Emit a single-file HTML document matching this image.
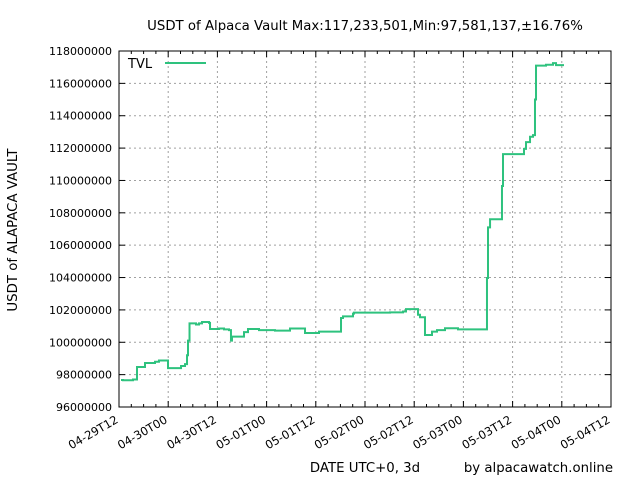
<!DOCTYPE html>
<html><head><meta charset="utf-8"><style>body{margin:0;background:#fff}svg{display:block;font-family:"DejaVu Sans","Liberation Sans",sans-serif}</style></head>
<body>
<svg id="c" width="640" height="480"></svg>
<script>
const times=[0.49,0.98,3.41,4.39,6.34,8.78,9.75,11.95,15.13,16.1,16.59,16.83,17.2,18.78,19.51,20.25,21.95,22.2,24.39,25.61,26.83,27.31,27.56,30.49,31.46,34.15,38.05,41.71,45.37,48.78,54.15,54.63,57.07,57.32,66.1,69.27,70.0,72.93,73.41,74.63,76.34,77.56,79.51,82.68,89.75,90.0,90.5,93.41,93.66,98.3,98.78,99.27,100.25,100.98,101.46,101.71,104.15,105.85,106.59,108.54];
const values=[97.67,97.65,97.7,98.47,98.72,98.8,98.87,98.4,98.53,98.65,99.2,100.1,101.17,101.1,101.17,101.25,101.2,100.82,100.85,100.8,100.75,100.1,100.35,100.63,100.82,100.75,100.72,100.85,100.57,100.66,101.5,101.6,101.77,101.83,101.85,101.9,102.05,101.7,101.55,100.45,100.66,100.75,100.87,100.8,103.97,107.1,107.6,109.66,111.63,111.63,111.95,112.37,112.7,112.8,115.0,117.1,117.15,117.25,117.13,117.13];
const yTicks=[96,98,100,102,104,106,108,110,112,114,116,118];
const xTickLabels=["04-29T12","04-30T00","04-30T12","05-01T00","05-01T12","05-02T00","05-02T12","05-03T00","05-03T12","05-04T00","05-04T12"];
const L=119,R=611,T=51,B=407,SPAN=120;
const xs=h=>L+h*(R-L)/SPAN, ys=v=>B-(v-96)*(B-T)/22;
const svg=document.getElementById('c');const NS='http://www.w3.org/2000/svg';
function mk(t,a,txt){const e=document.createElementNS(NS,t);for(const k in a)e.setAttribute(k,a[k]);if(txt!=null)e.textContent=txt;svg.appendChild(e);return e;}
yTicks.forEach(v=>{const y=ys(v);
if(v>96&&v<118){const g=mk('line',{x1:L,x2:R,y1:y,y2:y,stroke:'#a0a0a0','stroke-dasharray':'2,3'});}
mk('line',{x1:L,x2:L+6,y1:y,y2:y,stroke:'#000'});mk('line',{x1:R,x2:R-6,y1:y,y2:y,stroke:'#000'});
const t=mk('text',{x:L-7,y:y+4,'text-anchor':'end','font-size':11},String(v*1000000));});
for(let h=3;h<SPAN;h+=3){if(h%12===0)continue;const x=xs(h);mk('line',{x1:x,x2:x,y1:B,y2:B-3,stroke:'#000'});mk('line',{x1:x,x2:x,y1:T,y2:T+3,stroke:'#000'});}
xTickLabels.forEach((s,i)=>{const h=i*12;const x=xs(h);
if(h>0&&h<SPAN){const g=mk('line',{x1:x,x2:x,y1:T,y2:B,stroke:'#a0a0a0','stroke-dasharray':'2,3'});}
mk('line',{x1:x,x2:x,y1:B,y2:B-6,stroke:'#000'});mk('line',{x1:x,x2:x,y1:T,y2:T+6,stroke:'#000'});
const t=mk('text',{x:x,y:B+15,'text-anchor':'end','font-size':11.5,transform:`rotate(-30 ${x} ${B+15})`},s);});
const fr=mk('rect',{x:L,y:T,width:R-L,height:B-T,fill:'none',stroke:'#000'});
let d='';times.forEach((h,i)=>{const x=xs(h),y=ys(values[i]);if(i===0)d+=`M${x},${y}`;else d+=`H${x}V${y}`;});
const p=mk('path',{d:d,fill:'none',stroke:'#2ec27e','stroke-width':2});
const lt=mk('text',{x:128,y:68,'font-size':13},'TVL');
const ll=mk('line',{x1:165,x2:206,y1:63,y2:63,stroke:'#2ec27e','stroke-width':2});
const ti=mk('text',{x:365,y:30,'text-anchor':'middle','font-size':13.3},'USDT of Alpaca Vault Max:117,233,501,Min:97,581,137,±16.76%');
const yl=mk('text',{x:17,y:230,'text-anchor':'middle','font-size':13.3,transform:'rotate(-90 17 230)'},'USDT of ALAPACA VAULT');
const xl=mk('text',{x:365,y:472,'text-anchor':'middle','font-size':13.3},'DATE UTC+0, 3d');
const cr=mk('text',{x:613,y:472,'text-anchor':'end','font-size':13.3},'by alpacawatch.online');
</script>
</body></html>
